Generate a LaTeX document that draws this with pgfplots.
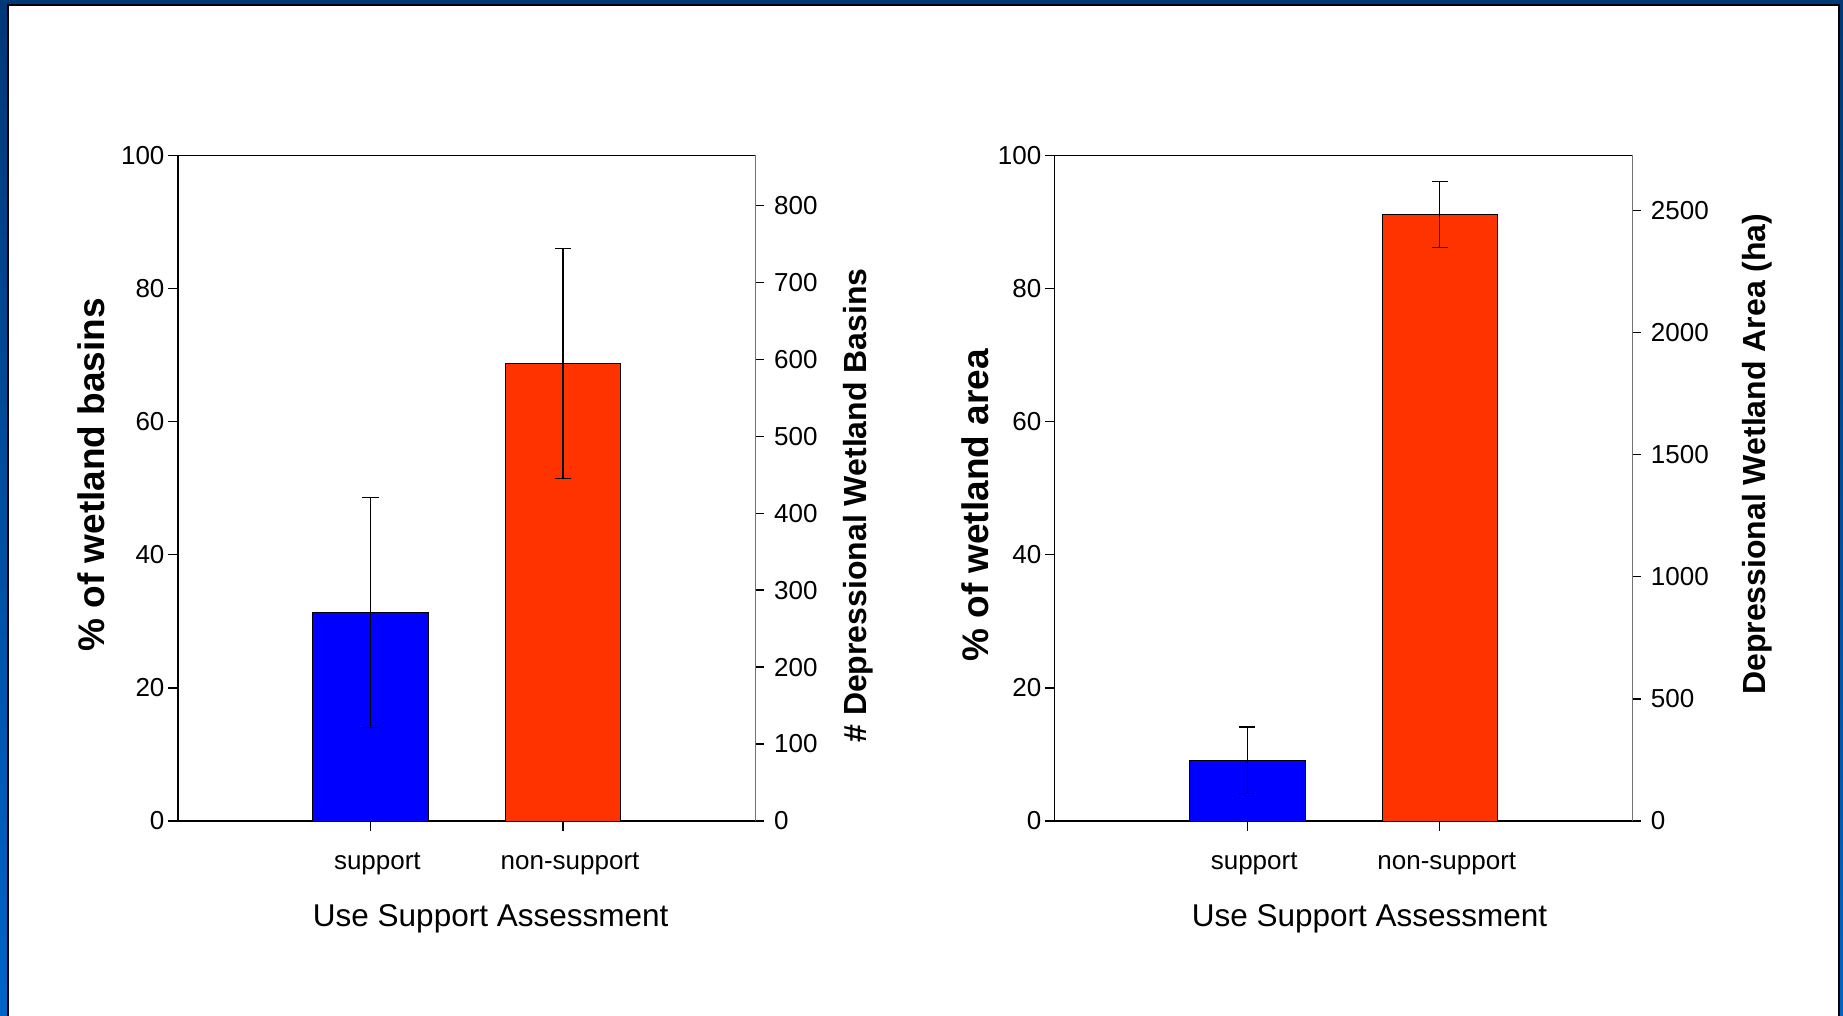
\documentclass[border=0pt]{standalone}
\usepackage{pgfplots}
\pgfplotsset{compat=1.18}
\usepackage{fontspec}
\setmainfont{Liberation Sans}

\definecolor{barblue}{RGB}{0,0,255}
\definecolor{barred}{RGB}{255,51,0}
\definecolor{frametop}{RGB}{0,56,120}
\definecolor{framebot}{RGB}{0,100,200}

\pgfplotsset{
  panel/.style={
    scale only axis, width=289pt, height=332.85pt, anchor=south west,
    xmin=0, xmax=3, ymin=0,
    tick align=outside,
    /pgf/number format/assume math mode=true,
    /pgf/number format/1000 sep={},
    tick label style={font=\fontsize{13}{15}\selectfont},
    tick style={black, line width=0.65pt},
  },
  mainax/.style={panel, ymax=100,
    axis x line*=bottom, axis y line*=left,
    x axis line style={line width=1.2pt,-},
    y axis line style={line width=0.85pt,-},
    xtick={1,2}, xticklabels={support,non-support},
    ytick={0,20,...,100},
    major tick length=4.8pt,
    xticklabel style={xshift=3.5pt, yshift=-7.6pt},
    yticklabel style={xshift=1.7pt},
    xlabel={Use Support Assessment},
    xlabel style={font=\fontsize{15.75}{18}\selectfont, anchor=base},
    ylabel style={font=\bfseries\fontsize{18.5}{20}\selectfont, anchor=center},
  },
  twinax/.style={panel,
    axis x line*=top, axis y line*=right,
    x axis line style={line width=0.65pt,-},
    y axis line style={line width=0.65pt,-,black!55},
    xtick=\empty, major tick length=4pt,
    yticklabel style={xshift=1.7pt},
    ylabel style={font=\bfseries\fontsize{16}{18}\selectfont, anchor=center},
  },
  bar/.style={ybar, bar shift=0pt, bar width=0.6, draw=black, line width=0.4pt,
    /pgfplots/error bars/y dir=both, /pgfplots/error bars/y explicit,
    /pgfplots/error bars/error bar style={black, line width=0.65pt},
    /pgfplots/error bars/error mark options={black, line width=0.65pt, mark size=4.1pt, rotate=90}},
}

\begin{document}
\begin{tikzpicture}
\useasboundingbox (0,0) rectangle (921.5pt,-508pt);
\begin{scope}
  \clip (0,0) rectangle (921.5pt,-508pt);
  \shade[top color=frametop, bottom color=framebot] (0,0) rectangle (921.5pt,-508pt);
  \filldraw[fill=white, draw=black, line width=1pt] (4.15pt,-2.4pt) rectangle (919.65pt,-515pt);
\end{scope}

% left panel: basins
\begin{axis}[mainax, at={(88.85pt,-410.5pt)},
  ylabel={\% of wetland basins},
  every axis y label/.append style={at={(rel axis cs:-0.1488,0.520)}},
  every axis x label/.append style={at={(rel axis cs:0.5415,0)}, yshift=-52.85pt}]
  \addplot[bar, fill=barblue] coordinates {(1,31.3) +- (0,17.3)};
  \addplot[bar, fill=barred] coordinates {(2,68.7) +- (0,17.3)};
\end{axis}
\begin{axis}[twinax, at={(88.85pt,-410.5pt)}, ymax=865,
  ytick={0,100,...,800},
  ylabel={\# Depressional Wetland Basins},
  every axis y label/.append style={at={(rel axis cs:1.177,0.474)}}]
\end{axis}

% right panel: area
\begin{axis}[mainax, at={(527.25pt,-410.5pt)},
  ylabel={\% of wetland area},
  every axis y label/.append style={at={(rel axis cs:-0.1366,0.474)}},
  every axis x label/.append style={at={(rel axis cs:0.545,0)}, yshift=-52.85pt}]
  \addplot[bar, fill=barblue] coordinates {(1,9.1) +- (0,5.0)};
  \addplot[bar, fill=barred] coordinates {(2,91.1) +- (0,5.0)};
\end{axis}
\begin{axis}[twinax, at={(527.25pt,-410.5pt)}, ymax=2726,
  ytick={0,500,...,2500},
  ylabel={Depressional Wetland Area (ha)},
  every axis y label/.append style={at={(rel axis cs:1.2165,0.551)}}]
\end{axis}
\end{tikzpicture}
\end{document}
